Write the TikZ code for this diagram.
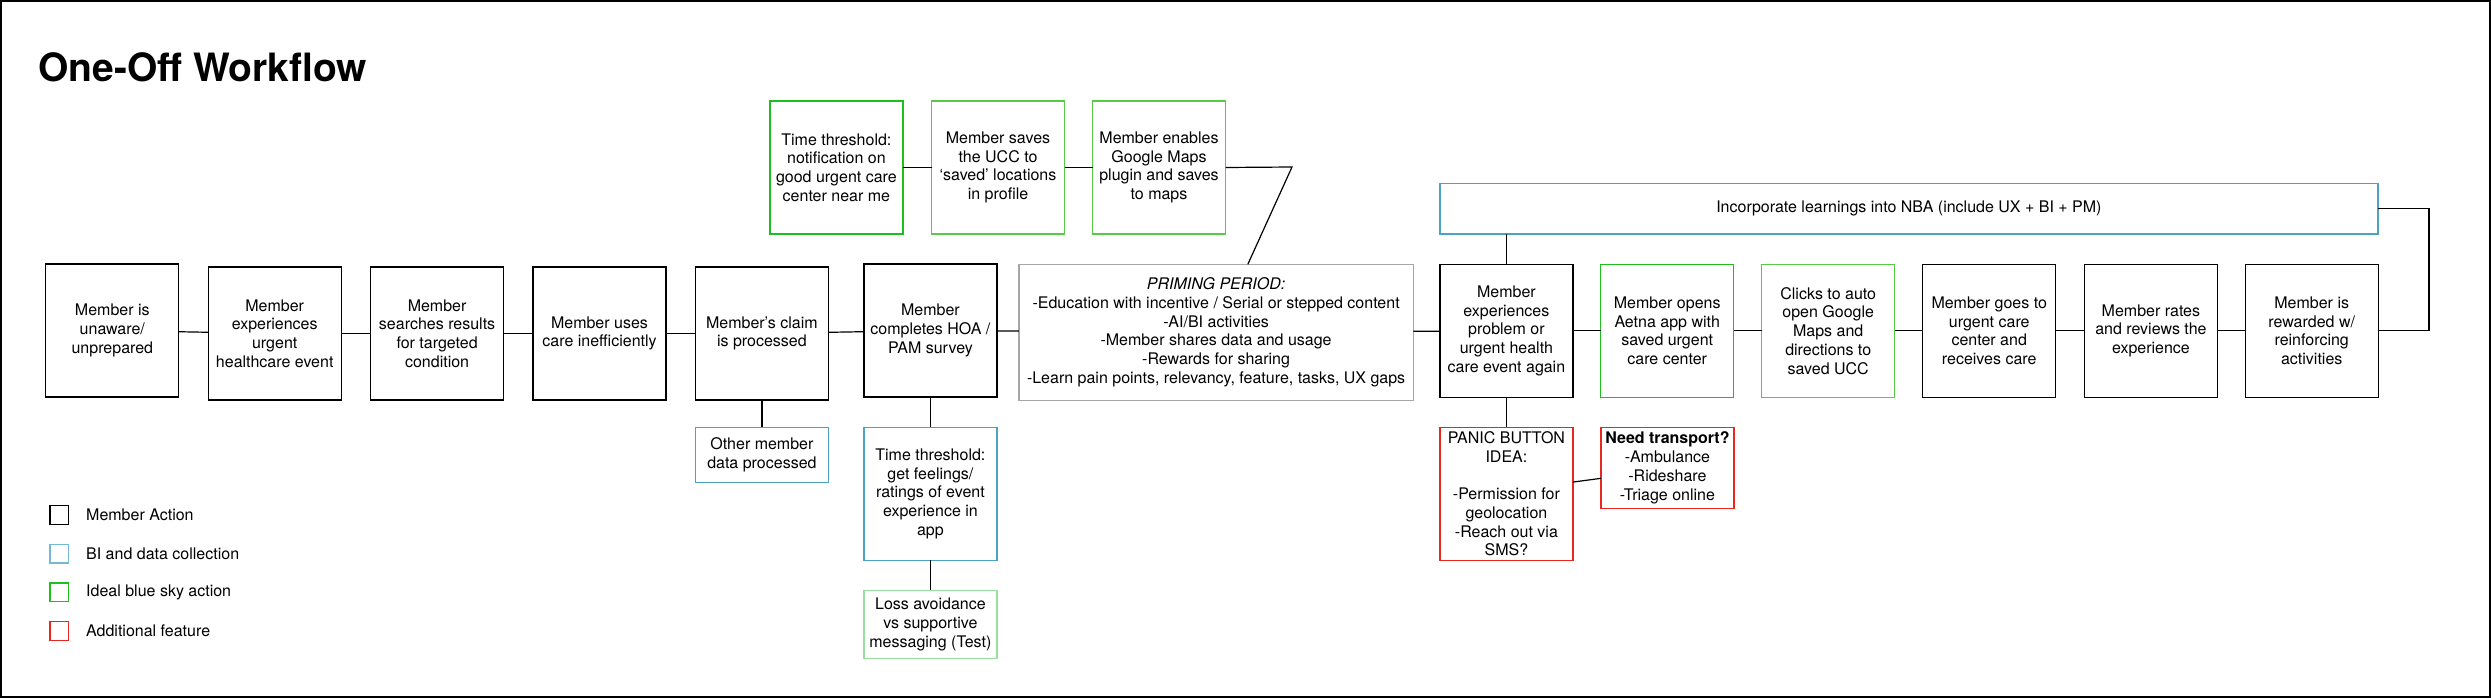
\documentclass[tikz,border=0pt]{standalone}
\usepackage{fontspec}
\setmainfont{TeX Gyre Heros}
\usepackage[usenames,dvipsnames]{xcolor}
\usepackage{tikz}
\usetikzlibrary{positioning, calc}
\definecolor{biblue}{HTML}{4AA3C3}
\definecolor{legendblue}{HTML}{72BAD6}
\definecolor{skygreen}{HTML}{1DBE1D}
\definecolor{lightsky}{HTML}{55CC44}
\definecolor{palesky}{HTML}{9ADF9F}
\definecolor{featurered}{HTML}{E8281E}
\definecolor{primegray}{HTML}{A6A6A6}
\tikzset{
	every node/.style={
		align=center,
		font=\fontsize{16}{18.7}\selectfont,
	},
}
\tikzstyle{member action} = [draw=black, line width=1.2pt, minimum width=133pt, minimum height=133pt, inner sep=1pt, outer sep=0pt]
\tikzstyle{bi data} = [member action, draw=biblue]
\tikzstyle{blue sky} = [member action, draw=skygreen]
\tikzstyle{extra feature} = [member action, draw=featurered]
\tikzstyle{legend key} = [draw, line width=1.2pt, minimum size=18.7pt, inner sep=0pt, outer sep=0pt]
\tikzstyle{every link} = [line width=1.2pt]

\begin{document}
\begin{tikzpicture}[x=1pt, y=-1pt]
    \useasboundingbox (0,0) rectangle (2491,698);
    \draw[line width=1.5pt] (1,1) rectangle (2490,697);
    \node[anchor=base west, inner sep=0pt, font=\fontsize{39}{41}\selectfont\bfseries] (title) at (38,81.7) {One-Off Workflow};
    
    % main row
    \node[member action] (unaware) at (112.3,330.5) {Member is\\unaware/\\unprepared};
    \node[member action, right=29.4pt of unaware, yshift=-3pt] (event) {Member\\experiences\\urgent\\healthcare event};
    \node[member action, right=29.4pt of event] (searches) {Member\\searches results\\for targeted\\condition};
    \node[member action, right=29.4pt of searches] (inefficient) {Member uses\\care inefficiently};
    \node[member action, right=29.4pt of inefficient] (claim) {Member’s claim\\is processed};
    \node[member action, right=35.5pt of claim, yshift=3pt] (hoa) {Member\\completes HOA /\\PAM survey};
    \node[member action, draw=primegray, minimum width=394.4pt, minimum height=136pt, right=22pt of hoa, yshift=-1.8pt] (priming) {\textit{PRIMING PERIOD:}\\-Education with incentive / Serial or stepped content\\-AI/BI activities\\-Member shares data and usage\\-Rewards for sharing\\-Learn pain points, relevancy, feature, tasks, UX gaps};
    \node[member action, right=26.6pt of priming, yshift=1.5pt] (again) {Member\\experiences\\problem or\\urgent health\\care event again};
    \node[blue sky, right=27.8pt of again] (opens) {Member opens\\Aetna app with\\saved urgent\\care center};
    \node[blue sky, draw=lightsky, right=28pt of opens] (clicks) {Clicks to auto\\open Google\\Maps and\\directions to\\saved UCC};
    \node[member action, right=28pt of clicks] (goes) {Member goes to\\urgent care\\center and\\receives care};
    \node[member action, right=28.7pt of goes] (rates) {Member rates\\and reviews the\\experience};
    \node[member action, right=27.8pt of rates] (rewarded) {Member is\\rewarded w/\\reinforcing\\activities};
    
    % top row
    \node[blue sky, above=30pt of hoa, xshift=-94pt] (thresh) {Time threshold:\\notification on\\good urgent care\\center near me};
    \node[blue sky, draw=lightsky, right=28.6pt of thresh] (saves) {Member saves\\the UCC to\\‘saved’ locations\\in profile};
    \node[blue sky, draw=lightsky, right=28pt of saves] (enables) {Member enables\\Google Maps\\plugin and saves\\to maps};
    \node[bi data, minimum width=938pt, minimum height=50.7pt, above right=30.3pt and 0pt of again.north west] (nba) {Incorporate learnings into NBA (include UX + BI + PM)};
    \coordinate (bend) at (1292,167);
    
    % bottom row
    \node[bi data, minimum height=55pt, below=27.3pt of claim] (other) {Other member\\data processed};
    \node[bi data, below=30.3pt of hoa] (feelings) {Time threshold:\\get feelings/\\ratings of event\\experience in\\app};
    \node[blue sky, draw=palesky, minimum height=68pt, below=30pt of feelings] (loss) {Loss avoidance\\vs supportive\\messaging (Test)};
    \node[extra feature, below=30pt of again] (panic) {PANIC BUTTON\\IDEA:\\[18.7pt]-Permission for\\geolocation\\-Reach out via\\SMS?};
    \node[extra feature, minimum height=81pt, below right=0pt and 28pt of panic.north east] (transport) {\textbf{Need transport?}\\-Ambulance\\-Rideshare\\-Triage online};
    
    % legend
    \node[legend key, draw=black] (keyaction) at (59.3,515) {};
    \node[legend key, draw=legendblue, below=20pt of keyaction] (keybi) {};
    \node[legend key, draw=skygreen, below=20pt of keybi] (keysky) {};
    \node[legend key, draw=featurered, below=20pt of keysky] (keyfeature) {};
    \node[right=14pt of keyaction] (keyactionlabel) {Member Action};
    \node[right=14pt of keybi] (keybilabel) {BI and data collection};
    \node[right=14pt of keysky] (keyskylabel) {Ideal blue sky action};
    \node[right=14pt of keyfeature] (keyfeaturelabel) {Additional feature};
    
    \draw[every link] (unaware) -- (event);
    \draw[every link] (event) -- (searches);
    \draw[every link] (searches) -- (inefficient);
    \draw[every link] (inefficient) -- (claim);
    \draw[every link] (claim) -- (hoa);
    \draw[every link] (hoa) -- (priming);
    \draw[every link] (priming) -- (again);
    \draw[every link] (again) -- (opens);
    \draw[every link] (opens) -- (clicks);
    \draw[every link] (clicks) -- (goes);
    \draw[every link] (goes) -- (rates);
    \draw[every link] (rates) -- (rewarded);
    
    \draw[every link] (thresh) -- (saves);
    \draw[every link] (saves) -- (enables);
    \draw[every link] (enables.east) -- (bend) -- (priming.65);
    \draw[every link] (nba.south -| again.north) -- (again.north);
    \draw[every link] (nba.east) -- ++(51,0) |- (rewarded.east);
    
    \draw[every link] (claim) -- (other);
    \draw[every link] (hoa) -- (feelings);
    \draw[every link] (feelings) -- (loss);
    \draw[every link] (again) -- (panic);
    \draw[every link] (panic.10) -- (transport.189);
    
    \end{tikzpicture}
\end{document}
